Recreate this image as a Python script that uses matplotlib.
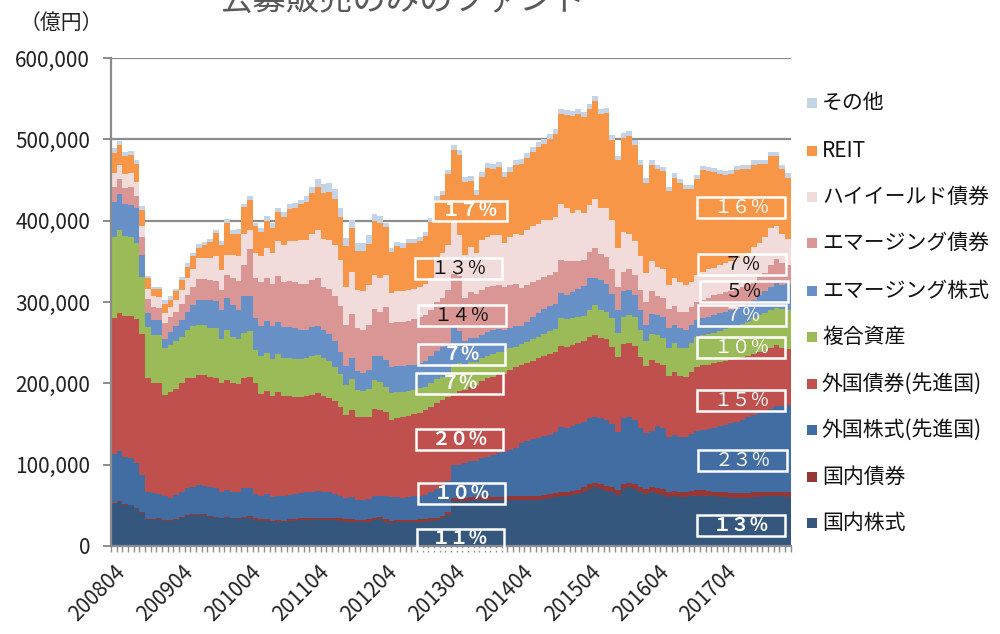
import numpy as np
import matplotlib
matplotlib.use("Agg")
import matplotlib.pyplot as plt
from matplotlib.patches import Rectangle
from matplotlib.ticker import FuncFormatter, FixedLocator

plt.rcParams['font.family'] = ['Noto Sans CJK JP', 'DejaVu Sans']

# Monthly net assets by asset class, 2008/04 - 2018/03 (unit: 1,000 億円)
year_labels = ["200804", "200904", "201004", "201104", "201204",
               "201304", "201404", "201504", "201604", "201704"]

domestic_equity = [
    52, 54, 51, 50, 46, 41, 32, 32, 33, 31, 31, 32, 35, 37, 38, 38, 38, 36, 35, 34, 35, 34, 33, 35,
    35, 32, 31, 31, 29, 30, 29, 31, 31, 32, 32, 32, 33, 32, 32, 32, 31, 30, 30, 29, 29, 30, 32, 33,
    30, 28, 29, 29, 29, 29, 30, 30, 31, 32, 34, 38, 55, 55, 55, 56, 56, 56, 57, 56, 56, 56, 57, 57,
    57, 56, 57, 57, 58, 59, 60, 62, 62, 63, 64, 66, 70, 72, 70, 68, 66, 63, 70, 72, 70, 67, 64, 67,
    64, 63, 60, 61, 60, 60, 61, 62, 62, 62, 61, 60, 60, 59, 59, 59, 59, 60, 60, 61, 61, 61, 61, 60]
domestic_bond = [
    1, 1, 1, 1, 1, 1, 1, 1, 1, 1, 1, 1, 1, 1, 1, 1, 1, 1, 1, 1, 1, 1, 1, 1,
    2, 2, 2, 2, 2, 2, 2, 2, 2, 2, 2, 2, 2, 2, 2, 2, 3, 3, 3, 3, 3, 3, 3, 3,
    3, 3, 3, 3, 3, 3, 3, 3, 3, 3, 3, 4, 4, 4, 4, 4, 4, 4, 4, 4, 4, 4, 4, 4,
    4, 5, 5, 5, 5, 5, 5, 5, 5, 5, 5, 6, 6, 6, 6, 6, 6, 6, 6, 6, 6, 6, 6, 6,
    7, 7, 7, 7, 7, 7, 7, 7, 7, 6, 6, 6, 6, 6, 6, 6, 6, 6, 6, 6, 6, 6, 6, 6]
foreign_equity = [
    60, 62, 58, 57, 55, 45, 34, 32, 30, 29, 27, 30, 31, 33, 34, 36, 35, 35, 35, 32, 33, 32, 32, 35,
    34, 30, 28, 31, 29, 30, 30, 30, 31, 31, 32, 32, 33, 33, 32, 30, 27, 26, 27, 25, 25, 25, 26, 25,
    29, 29, 28, 27, 28, 29, 29, 30, 32, 35, 36, 38, 40, 41, 43, 44, 45, 48, 49, 52, 54, 55, 57, 60,
    66, 68, 69, 71, 72, 73, 75, 79, 78, 79, 81, 80, 81, 81, 81, 81, 78, 71, 81, 80, 79, 72, 69, 69,
    76, 75, 67, 68, 67, 67, 70, 72, 74, 76, 78, 81, 83, 86, 88, 90, 93, 95, 98, 99, 102, 105, 105, 107]
foreign_bond = [
    167, 170, 173, 175, 177, 174, 139, 136, 136, 125, 130, 130, 133, 135, 134, 135, 136, 136, 136, 133, 135, 133, 133, 136,
    137, 136, 126, 126, 124, 127, 123, 121, 119, 118, 118, 120, 120, 117, 116, 114, 110, 102, 107, 101, 101, 101, 108, 106,
    103, 95, 97, 99, 100, 101, 102, 104, 105, 106, 106, 103, 89, 90, 90, 92, 93, 95, 96, 96, 97, 97, 98, 99,
    95, 96, 97, 98, 99, 99, 99, 100, 100, 100, 100, 100, 100, 100, 99, 99, 95, 92, 91, 91, 91, 87, 82, 87,
    78, 77, 75, 78, 75, 74, 76, 79, 79, 79, 80, 79, 79, 78, 78, 77, 76, 75, 74, 74, 75, 75, 71, 69]
balanced = [
    100, 101, 98, 97, 93, 70, 63, 59, 59, 57, 58, 59, 57, 60, 63, 62, 62, 60, 61, 55, 62, 57, 56, 55,
    56, 41, 46, 47, 46, 47, 47, 47, 47, 47, 47, 47, 47, 47, 45, 42, 41, 37, 38, 34, 33, 34, 35, 35,
    30, 33, 32, 31, 30, 30, 30, 29, 29, 29, 29, 29, 36, 35, 30, 30, 28, 28, 28, 28, 28, 27, 27, 25,
    26, 26, 26, 26, 27, 28, 28, 34, 34, 33, 32, 31, 33, 37, 34, 34, 35, 30, 34, 35, 35, 34, 31, 32,
    34, 34, 34, 35, 34, 35, 35, 37, 37, 38, 37, 38, 39, 40, 40, 41, 42, 44, 46, 47, 46, 46, 49, 48]
emerging_equity = [
    43, 45, 39, 39, 43, 27, 18, 18, 19, 12, 16, 18, 21, 22, 26, 31, 31, 34, 33, 35, 39, 39, 35, 45,
    43, 39, 37, 40, 40, 40, 38, 38, 38, 36, 35, 36, 36, 35, 34, 32, 27, 23, 26, 23, 22, 24, 29, 31,
    34, 32, 32, 32, 32, 31, 31, 32, 33, 35, 37, 38, 46, 39, 30, 30, 30, 29, 29, 29, 28, 26, 25, 25,
    22, 25, 28, 30, 31, 31, 31, 31, 30, 32, 34, 37, 40, 34, 37, 34, 30, 28, 31, 31, 27, 24, 20, 24,
    25, 25, 25, 23, 25, 23, 23, 21, 21, 21, 22, 22, 21, 21, 21, 22, 22, 23, 24, 26, 28, 30, 29, 32]
emerging_bond = [
    19, 18, 20, 23, 15, 22, 17, 16, 15, 19, 19, 18, 20, 21, 23, 25, 25, 25, 25, 25, 28, 33, 36, 38,
    58, 50, 54, 53, 52, 56, 55, 57, 56, 56, 56, 58, 58, 53, 55, 55, 56, 51, 54, 53, 53, 55, 58, 55,
    65, 54, 55, 55, 55, 56, 56, 56, 57, 60, 60, 65, 65, 68, 53, 56, 54, 55, 55, 55, 54, 53, 53, 52,
    47, 45, 42, 40, 39, 38, 39, 41, 41, 38, 35, 32, 31, 37, 32, 33, 30, 29, 24, 25, 25, 25, 28, 28,
    23, 24, 24, 23, 20, 22, 22, 22, 23, 23, 24, 24, 24, 24, 24, 24, 24, 23, 23, 23, 27, 30, 27, 23]
high_yield = [
    16, 17, 17, 16, 18, 13, 12, 13, 13, 13, 12, 14, 17, 20, 22, 26, 26, 27, 31, 24, 25, 29, 31, 39,
    24, 30, 32, 37, 38, 43, 46, 49, 51, 54, 54, 57, 60, 59, 60, 63, 57, 47, 52, 47, 47, 49, 42, 41,
    39, 37, 37, 38, 38, 37, 37, 38, 39, 55, 55, 55, 63, 50, 53, 56, 50, 61, 62, 62, 61, 54, 59, 62,
    65, 68, 69, 69, 70, 68, 68, 68, 66, 60, 62, 57, 58, 60, 57, 60, 61, 47, 49, 44, 42, 41, 36, 38,
    36, 35, 29, 34, 37, 33, 31, 33, 34, 35, 34, 35, 36, 37, 38, 38, 38, 42, 41, 44, 46, 40, 36, 33]
reit = [
    25, 25, 22, 23, 22, 20, 13, 9, 10, 11, 9, 11, 12, 14, 15, 13, 16, 20, 28, 31, 39, 26, 26, 33,
    36, 33, 30, 33, 31, 36, 35, 39, 41, 44, 47, 50, 52, 56, 59, 57, 53, 50, 54, 48, 50, 50, 66, 68,
    59, 51, 56, 53, 58, 57, 57, 59, 69, 70, 71, 87, 89, 99, 90, 81, 72, 78, 85, 82, 84, 82, 80, 85,
    88, 88, 91, 95, 93, 99, 102, 111, 114, 119, 118, 119, 118, 120, 115, 117, 98, 108, 116, 120, 118, 112, 110, 118,
    120, 121, 116, 124, 121, 118, 114, 118, 125, 121, 118, 112, 108, 106, 108, 106, 104, 101, 98, 90, 88, 86, 79, 75]
other = [
    6, 5, 5, 5, 5, 5, 3, 3, 3, 4, 4, 3, 4, 5, 4, 4, 4, 4, 4, 5, 5, 5, 7, 4,
    5, 4, 5, 6, 6, 5, 6, 6, 6, 6, 7, 7, 10, 11, 11, 12, 11, 10, 10, 10, 10, 11, 9, 9,
    5, 5, 5, 5, 5, 5, 5, 5, 5, 5, 5, 5, 6, 6, 6, 6, 6, 6, 6, 6, 6, 6, 6, 6,
    6, 6, 6, 6, 6, 6, 6, 6, 6, 6, 6, 6, 6, 6, 6, 6, 6, 6, 6, 6, 6, 6, 6, 6,
    5, 5, 5, 5, 5, 5, 5, 5, 5, 5, 5, 5, 5, 5, 5, 5, 5, 5, 5, 5, 5, 5, 5, 6]

# stacking order: bottom -> top
layers = [
    ("国内株式", domestic_equity, "#35577e"),
    ("国内債券", domestic_bond, "#953735"),
    ("外国株式(先進国)", foreign_equity, "#416da3"),
    ("外国債券(先進国)", foreign_bond, "#c0504d"),
    ("複合資産", balanced, "#9bbb59"),
    ("エマージング株式", emerging_equity, "#6790c6"),
    ("エマージング債券", emerging_bond, "#d99694"),
    ("ハイイールド債券", high_yield, "#f2dcdb"),
    ("REIT", reit, "#f79646"),
    ("その他", other, "#c5d3e7"),
]

UNIT = 1000  # values above are in 1,000 億円

fig = plt.figure(figsize=(10, 6.34), dpi=100)
W, H = 1000, 634
ax = fig.add_axes([111 / W, 1 - 546 / H, 679.7 / W, 488 / H])

n = len(domestic_equity)
x = np.arange(n + 1)
base = np.zeros(n + 1)
for name, vals, col in layers:
    v = np.asarray(vals, dtype=float) * UNIT
    v = np.append(v, v[-1])
    ax.fill_between(x, base, base + v, step='post', color=col, linewidth=0)
    base = base + v

ax.set_xlim(0, n)
ax.set_ylim(0, 600000)

grid_col = "#8c8c8c"
ax.set_axisbelow(True)
ax.yaxis.grid(True, color=grid_col, linewidth=1.6)
ax.set_yticks(np.arange(0, 600001, 100000))
ax.yaxis.set_major_formatter(FuncFormatter(lambda v, p: f"{int(v):,}"))
ax.tick_params(axis='y', length=6, width=1.4, color=grid_col, labelsize=15,
               pad=9, labelcolor="#222222")

for s in ("top", "right"):
    ax.spines[s].set_visible(False)
for s in ("left", "bottom"):
    ax.spines[s].set_color(grid_col)
    ax.spines[s].set_linewidth(1.6)

label_pos = [12 * k + 0.5 for k in range(len(year_labels))]
ax.xaxis.set_major_locator(FixedLocator(label_pos))
ax.set_xticklabels(year_labels, rotation=45, ha='right', va='top',
                   rotation_mode='anchor', fontsize=15, color="#222222")
ax.xaxis.set_minor_locator(FixedLocator(np.arange(0, n + 1)))
ax.tick_params(axis='x', which='major', length=0, pad=11)
ax.tick_params(axis='x', which='minor', length=4, width=1.0, color=grid_col)

# title (partly above the canvas) and unit label
fig.text(403 / W, 1.0, "公募販売のみのファンド", fontsize=24, color="#595959",
         ha='center', va='center')
fig.text(61 / W, 1 - 23 / H, "（億円）", fontsize=15, color="#222222",
         ha='center', va='center')

# legend, top item is the top of the stack
leg_y = [103, 151, 197, 243, 291, 337, 384, 430, 477, 523]
for (name, vals, col), yy in zip(reversed(layers), leg_y):
    fig.patches.append(Rectangle((807 / W, 1 - (yy + 5) / H), 10 / W, 10 / H,
                                 transform=fig.transFigure, facecolor=col,
                                 edgecolor='none'))
    fig.text(822 / W, 1 - yy / H, name, fontsize=15, color="#111111",
             ha='left', va='center')

# share callouts
callouts = [
    ((433, 201, 507, 221), "１７％", "white", "bold"),
    ((415, 258, 502, 279), "１３％", "#111111", "normal"),
    ((418, 305, 506, 326), "１４％", "#111111", "normal"),
    ((418, 344, 505, 365), "７％", "white", "bold"),
    ((416, 373, 503, 394), "７％", "white", "bold"),
    ((416, 429, 503, 450), "２０％", "white", "bold"),
    ((418, 483, 505, 504), "１０％", "white", "bold"),
    ((417, 529, 504, 549), "１１％", "white", "bold"),
    ((697, 197, 785, 218), "１６％", "white", "normal"),
    ((698, 254, 786, 275), "７％", "#111111", "normal"),
    ((700, 281, 788, 302), "５％", "#111111", "normal"),
    ((698, 305, 786, 326), "７％", "white", "normal"),
    ((697, 337, 785, 358), "１０％", "white", "normal"),
    ((697, 390, 785, 411), "１５％", "white", "normal"),
    ((698, 450, 787, 471), "２３％", "white", "normal"),
    ((697, 515, 785, 536), "１３％", "white", "bold"),
]
for (x0, y0, x1, y1), txt, tc, fw in callouts:
    fig.patches.append(Rectangle((x0 / W, 1 - y1 / H), (x1 - x0) / W, (y1 - y0) / H,
                                 transform=fig.transFigure, fill=False,
                                 edgecolor='white', linewidth=1.8))
    fig.text((x0 + x1) / 2 / W, 1 - (y0 + y1) / 2 / H, txt, fontsize=13.5,
             color=tc, fontweight=fw, ha='center', va='center')

fig.savefig("out.png", dpi=100)
